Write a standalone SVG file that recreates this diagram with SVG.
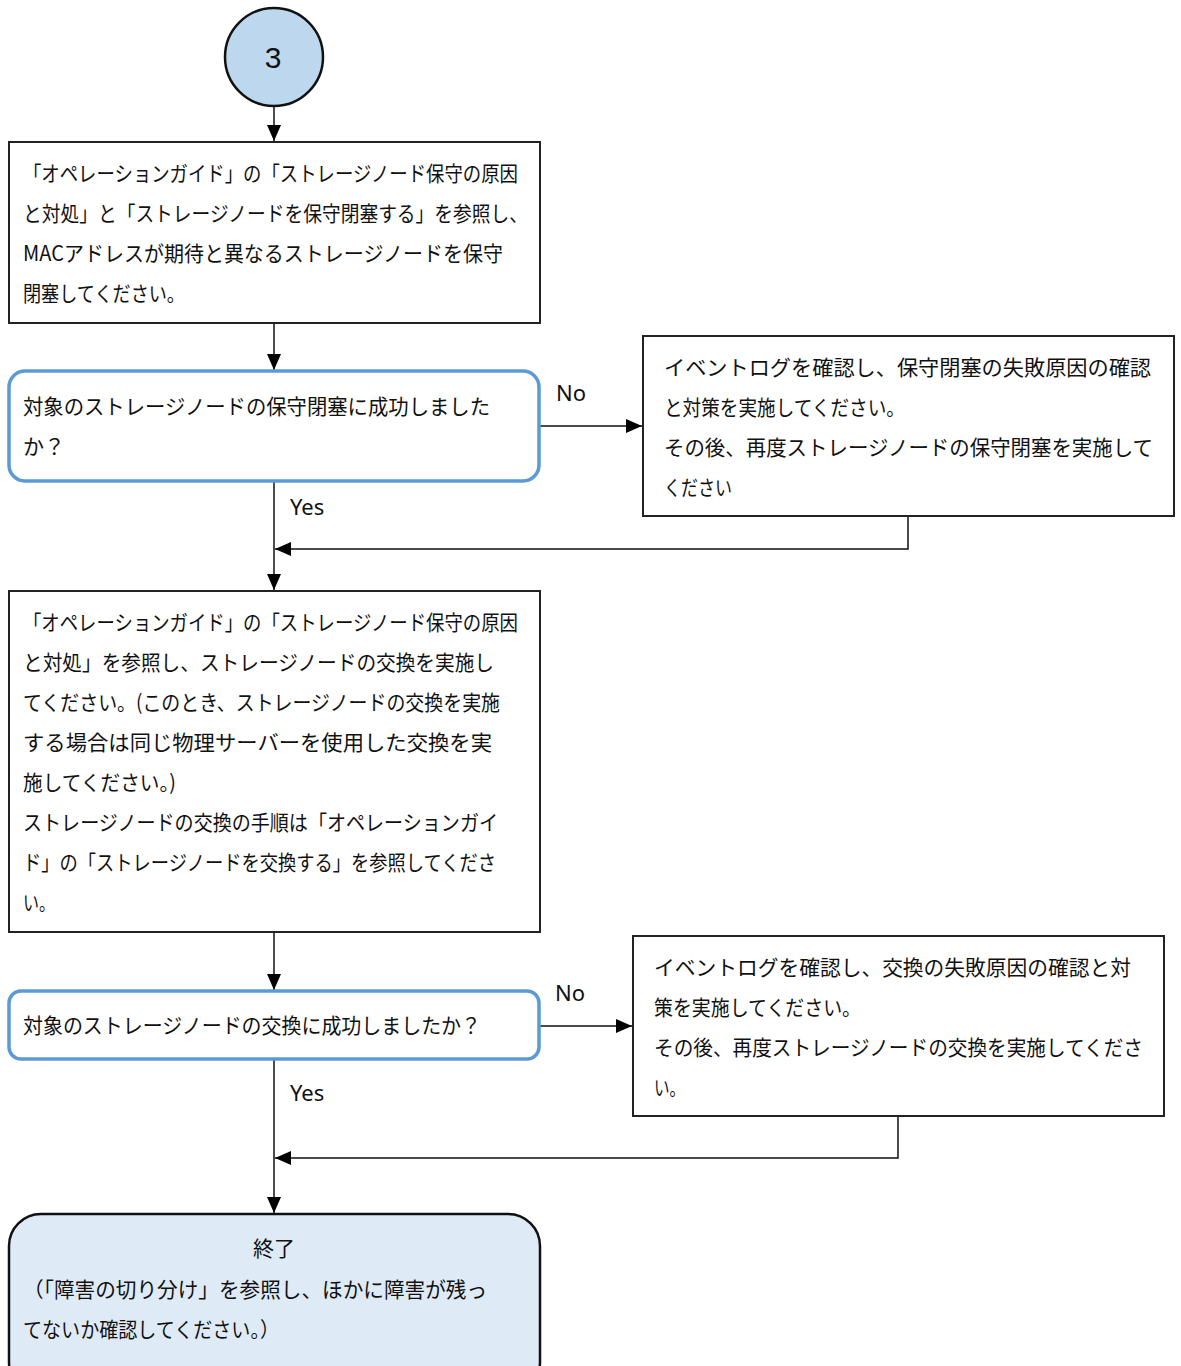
<svg xmlns="http://www.w3.org/2000/svg" width="1181" height="1366" viewBox="0 0 1181 1366">
<style>
.t{font-family:"Noto Sans CJK JP","Noto Sans",sans-serif;font-size:21px;fill:#111;}
.lbl{font-family:"Noto Sans","Noto Sans CJK JP",sans-serif;font-size:22px;fill:#111;}
.box{fill:#fff;stroke:#222;stroke-width:2;}
.dec{fill:#fff;stroke:#5B9BD5;stroke-width:3.5;}
.c{fill:none;stroke:#111;stroke-width:1.5;}
</style>
<defs>
<marker id="a2" markerWidth="16" markerHeight="16" refX="16" refY="8" orient="auto" markerUnits="userSpaceOnUse" viewBox="0 0 16 16">
<path d="M0,1 L16,8 L0,15 z" fill="#000"/>
</marker>
</defs>
<rect width="1181" height="1366" fill="#fff"/>
<g id="connectors">
<path class="c" d="M274,107 V141" marker-end="url(#a2)"/>
<path class="c" d="M274,323 V370" marker-end="url(#a2)"/>
<path class="c" d="M540,426 H642" marker-end="url(#a2)"/>
<path class="c" d="M274,481 V590" marker-end="url(#a2)"/>
<path class="c" d="M908,516 V549 H275" marker-end="url(#a2)"/>
<path class="c" d="M274,932 V990" marker-end="url(#a2)"/>
<path class="c" d="M540,1026 H632" marker-end="url(#a2)"/>
<path class="c" d="M274,1059 V1213" marker-end="url(#a2)"/>
<path class="c" d="M898,1116 V1158 H275" marker-end="url(#a2)"/>
<text class="lbl" x="556" y="401">No</text>
<text class="lbl" x="290" y="515">Yes</text>
<text class="lbl" x="555" y="1001">No</text>
<text class="lbl" x="290" y="1101">Yes</text>
</g>
<g id="n3">
<circle cx="274" cy="57" r="49" fill="#BDD7EE" stroke="#111" stroke-width="2.5"/>
<text x="273" y="68" text-anchor="middle" style="font-family:'Liberation Sans',sans-serif;font-size:30px;fill:#111">3</text>
</g>
<g id="box1">
<rect class="box" x="9" y="142" width="531" height="181"/>
<text class="t" x="23" y="181" textLength="495" lengthAdjust="spacingAndGlyphs">「オペレーションガイド」の「ストレージノード保守の原因</text>
<text class="t" x="23" y="221" textLength="505" lengthAdjust="spacingAndGlyphs">と対処」と「ストレージノードを保守閉塞する」を参照し、</text>
<text class="t" x="23" y="261" textLength="480" lengthAdjust="spacingAndGlyphs">MACアドレスが期待と異なるストレージノードを保守</text>
<text class="t" x="23" y="301" textLength="162" lengthAdjust="spacingAndGlyphs">閉塞してください。</text>
</g>
<g id="dec1">
<rect class="dec" x="9" y="371" width="530" height="110" rx="16"/>
<text class="t" x="23" y="414" textLength="467" lengthAdjust="spacingAndGlyphs">対象のストレージノードの保守閉塞に成功しました</text>
<text class="t" x="23" y="454">か？</text>
</g>
<g id="fail1">
<rect class="box" x="643" y="336" width="531" height="180"/>
<text class="t" x="664" y="375" textLength="487" lengthAdjust="spacingAndGlyphs">イベントログを確認し、保守閉塞の失敗原因の確認</text>
<text class="t" x="664" y="415" textLength="241" lengthAdjust="spacingAndGlyphs">と対策を実施してください。</text>
<text class="t" x="664" y="455" textLength="489" lengthAdjust="spacingAndGlyphs">その後、再度ストレージノードの保守閉塞を実施して</text>
<text class="t" x="664" y="495" textLength="68" lengthAdjust="spacingAndGlyphs">ください</text>
</g>
<g id="box2">
<rect class="box" x="9" y="591" width="531" height="341"/>
<text class="t" x="23" y="630" textLength="495" lengthAdjust="spacingAndGlyphs">「オペレーションガイド」の「ストレージノード保守の原因</text>
<text class="t" x="23" y="670" textLength="471" lengthAdjust="spacingAndGlyphs">と対処」を参照し、ストレージノードの交換を実施し</text>
<text class="t" x="23" y="710" textLength="477" lengthAdjust="spacingAndGlyphs">てください。(このとき、ストレージノードの交換を実施</text>
<text class="t" x="23" y="750" textLength="469" lengthAdjust="spacingAndGlyphs">する場合は同じ物理サーバーを使用した交換を実</text>
<text class="t" x="23" y="790" textLength="153" lengthAdjust="spacingAndGlyphs">施してください。)</text>
<text class="t" x="23" y="830" textLength="475" lengthAdjust="spacingAndGlyphs">ストレージノードの交換の手順は「オペレーションガイ</text>
<text class="t" x="23" y="870" textLength="473" lengthAdjust="spacingAndGlyphs">ド」の「ストレージノードを交換する」を参照してくださ</text>
<text class="t" x="23" y="910" textLength="32" lengthAdjust="spacingAndGlyphs">い。</text>
</g>
<g id="dec2">
<rect class="dec" x="9" y="991" width="530" height="68" rx="12"/>
<text class="t" x="23" y="1033" textLength="458" lengthAdjust="spacingAndGlyphs">対象のストレージノードの交換に成功しましたか？</text>
</g>
<g id="fail2">
<rect class="box" x="633" y="936" width="531" height="180"/>
<text class="t" x="654" y="975" textLength="477" lengthAdjust="spacingAndGlyphs">イベントログを確認し、交換の失敗原因の確認と対</text>
<text class="t" x="654" y="1015" textLength="207" lengthAdjust="spacingAndGlyphs">策を実施してください。</text>
<text class="t" x="654" y="1055" textLength="489" lengthAdjust="spacingAndGlyphs">その後、再度ストレージノードの交換を実施してくださ</text>
<text class="t" x="654" y="1095" textLength="31" lengthAdjust="spacingAndGlyphs">い。</text>
</g>
<g id="end">
<rect x="9" y="1214" width="531" height="180" rx="32" fill="#DEEBF7" stroke="#111" stroke-width="2.5"/>
<text class="t" x="274" y="1256" text-anchor="middle">終了</text>
<text class="t" x="23" y="1297" textLength="464" lengthAdjust="spacingAndGlyphs">（「障害の切り分け」を参照し、ほかに障害が残っ</text>
<text class="t" x="23" y="1337" textLength="256" lengthAdjust="spacingAndGlyphs">てないか確認してください。）</text>
</g>
</svg>
